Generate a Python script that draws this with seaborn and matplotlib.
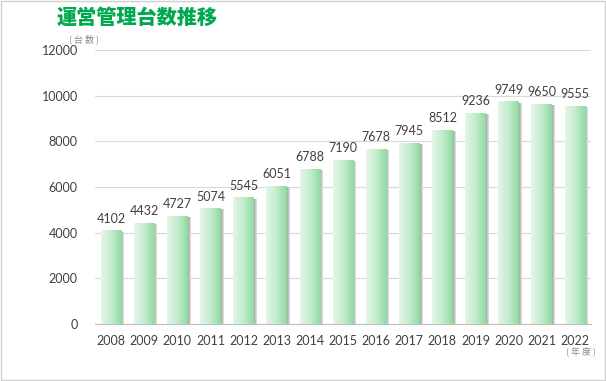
import matplotlib
matplotlib.use("Agg")
import matplotlib.pyplot as plt
import numpy as np
import pandas as pd
import seaborn as sns
from matplotlib.colors import LinearSegmentedColormap
from matplotlib.patches import Rectangle

# データ
years = ["2008", "2009", "2010", "2011", "2012", "2013", "2014", "2015",
         "2016", "2017", "2018", "2019", "2020", "2021", "2022"]
units = [4102, 4432, 4727, 5074, 5545, 6051, 6788, 7190,
         7678, 7945, 8512, 9236, 9749, 9650, 9555]
yticks = [0, 2000, 4000, 6000, 8000, 10000, 12000]

TITLE = "運営管理台数推移"
JP = ["Noto Sans CJK JP", "DejaVu Sans"]
NUM = ["Lato", "DejaVu Sans"]

sns.set_style("white")
plt.rcParams["font.family"] = NUM

df = pd.DataFrame({"年度": years, "台数": units})

fig = plt.figure(figsize=(6.06, 3.81), dpi=100)
ax = fig.add_axes([0.156, 0.1496, 0.82, 0.7194])

sns.barplot(data=df, x="年度", y="台数", color="#a8e4b3", width=0.62,
            saturation=1, ax=ax, zorder=3)

grad = LinearSegmentedColormap.from_list("g", ["#e4f6e8", "#c4ecce", "#8edb9f"])
shade = LinearSegmentedColormap.from_list("s", ["#a0a0a0", "#e8e8e8"])
gvals = np.linspace(0, 1, 64).reshape(1, -1)
for p in ax.patches:
    x0, w, h = p.get_x(), p.get_width(), p.get_height()
    # 影
    ax.imshow(gvals, cmap=shade, aspect="auto",
              extent=[x0 + w, x0 + w + 0.09, 0, h - 80], zorder=2.5,
              interpolation="bicubic")
    p.set_edgecolor("none")
    im = ax.imshow(gvals, cmap=grad, aspect="auto", extent=[x0, x0 + w, 0, h],
                   zorder=3.5, interpolation="bicubic")
    im.set_clip_path(p)

ax.bar_label(ax.containers[0], padding=4, fontsize=9, color="#404040")

ax.set_xlim(-0.5, len(years) - 0.5)
ax.set_ylim(0, 12000)
ax.set_yticks(yticks)
ax.grid(axis="y", color="#d9d9d9", lw=0.8, zorder=0)
ax.set_xlabel("")
ax.set_ylabel("")
ax.tick_params(axis="y", length=0, pad=12, labelsize=9, labelcolor="#404040")
ax.tick_params(axis="x", which="major", length=0, pad=8, labelsize=9,
               labelcolor="#404040")
ax.set_xticks(np.arange(-0.5, len(years), 1), minor=True)
ax.tick_params(axis="x", which="minor", length=4, color="#bfbfbf", width=0.8)
for side in ["left", "right", "top"]:
    ax.spines[side].set_visible(False)
ax.spines["bottom"].set_color("#bfbfbf")
ax.spines["bottom"].set_linewidth(0.8)

fig.text(57 / 606, 1 - 18 / 381, TITLE, family=JP, fontsize=14.5,
         fontweight="heavy", color="#00a84f", va="center", ha="left")
fig.text(69 / 606, 1 - 39 / 381, "( 台 数 )", family=JP, fontsize=6.5,
         color="#8c8c8c", va="center", ha="left")
fig.text(566 / 606, 1 - 351 / 381, "( 年 度 )", family=JP, fontsize=6.5,
         color="#8c8c8c", va="center", ha="left")

fig.patches.append(Rectangle((0.002, 0.002), 0.996, 0.996, transform=fig.transFigure,
                             fill=False, edgecolor="#d0d0d0", lw=1))

fig.savefig("out.png", dpi=100)
